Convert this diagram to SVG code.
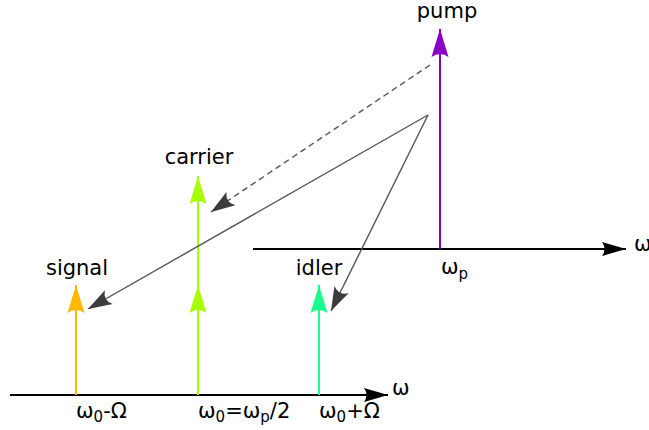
<svg xmlns="http://www.w3.org/2000/svg" width="649" height="430" viewBox="0 0 649 430">
<style>
text{font-family:"DejaVu Sans","Liberation Sans",sans-serif;font-size:21px;fill:#000}
.sub{font-size:15px}
.axis{stroke:#000;stroke-width:1.8;fill:none}
.gray{stroke:#555;stroke-width:1.4;fill:none}
.dash{stroke-dasharray:6,4}
</style>
<defs>
<marker id="hk" markerUnits="userSpaceOnUse" viewBox="-24 -8 25 16" refX="0" refY="0" markerWidth="25" markerHeight="16" orient="auto"><path d="M0,0 L-24,-7 Q-19,0 -24,7 Z" fill="#000"/></marker>
<marker id="hp" markerUnits="userSpaceOnUse" viewBox="-29 -10 30 20" refX="0" refY="0" markerWidth="30" markerHeight="20" orient="auto"><path d="M0,0 L-28,-8.5 Q-22,0 -28,8.5 Z" fill="#8800c4"/></marker>
<marker id="hs" markerUnits="userSpaceOnUse" viewBox="-29 -10 30 20" refX="0" refY="0" markerWidth="30" markerHeight="20" orient="auto"><path d="M0,0 L-28,-8.5 Q-22,0 -28,8.5 Z" fill="#ffb900"/></marker>
<marker id="hc" markerUnits="userSpaceOnUse" viewBox="-29 -10 30 20" refX="0" refY="0" markerWidth="30" markerHeight="20" orient="auto"><path d="M0,0 L-28,-8.5 Q-22,0 -28,8.5 Z" fill="#a8ff00"/></marker>
<marker id="hi" markerUnits="userSpaceOnUse" viewBox="-29 -10 30 20" refX="0" refY="0" markerWidth="30" markerHeight="20" orient="auto"><path d="M0,0 L-28,-8.5 Q-22,0 -28,8.5 Z" fill="#1aff8c"/></marker>
<marker id="hg" markerUnits="userSpaceOnUse" viewBox="-25 -9 26 18" refX="0" refY="0" markerWidth="26" markerHeight="18" orient="auto"><path d="M0,0 L-24,-8 Q-17,0 -24,8 Z" fill="#3c3c3c"/></marker>
</defs>

<g id="axes">
<g id="axis-bottom"><line class="axis" x1="10" y1="395" x2="388" y2="395" marker-end="url(#hk)"/><text x="392" y="395">ω</text></g>
<g id="axis-top"><line class="axis" x1="253" y1="249" x2="626" y2="249" marker-end="url(#hk)"/><text x="634" y="251">ω</text></g>
</g>

<g id="pump">
<line x1="440" y1="249" x2="440" y2="29" stroke="#8800c4" stroke-width="2" marker-end="url(#hp)"/>
<text x="447" y="18" text-anchor="middle">pump</text>
<text x="441" y="274">ω<tspan class="sub" dy="5">p</tspan></text>
</g>

<g id="signal">
<line x1="76" y1="395" x2="76" y2="285" stroke="#ffb900" stroke-width="2" marker-end="url(#hs)"/>
<text x="77" y="275" text-anchor="middle">signal</text>
<text x="76" y="418">ω<tspan class="sub" dy="4">0</tspan><tspan dy="-4">-Ω</tspan></text>
</g>

<g id="carrier">
<polyline points="198,395 198,285 198,176" fill="none" stroke="#a8ff00" stroke-width="2" marker-mid="url(#hc)" marker-end="url(#hc)"/>
<text x="199" y="164" text-anchor="middle">carrier</text>
<text x="198" y="418">ω<tspan class="sub" dy="4">0</tspan><tspan dy="-4">=ω</tspan><tspan class="sub" dy="4">p</tspan><tspan dy="-4">/2</tspan></text>
</g>

<g id="idler">
<line x1="319" y1="395" x2="319" y2="285" stroke="#1aff8c" stroke-width="2" marker-end="url(#hi)"/>
<text x="319" y="275" text-anchor="middle">idler</text>
<text x="319" y="418">ω<tspan class="sub" dy="4">0</tspan><tspan dy="-4">+Ω</tspan></text>
</g>

<g id="connectors">
<line class="gray dash" x1="430" y1="65" x2="211" y2="212" marker-end="url(#hg)"/>
<line class="gray" x1="428" y1="115" x2="88" y2="309" marker-end="url(#hg)"/>
<line class="gray" x1="428" y1="115" x2="331" y2="311" marker-end="url(#hg)"/>
</g>
</svg>
